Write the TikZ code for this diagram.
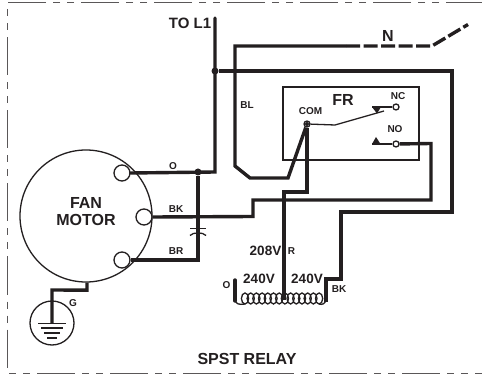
\documentclass[tikz,border=0pt]{standalone}
\usepackage{fontspec}
\setmainfont{Liberation Sans}
\tikzset{
  wire/.style={line width=3.4pt,color=ink,miter limit=4},
  thin line/.style={line width=1.3pt,color=ink},
  term/.style={circle,draw=ink,line width=1.3pt,fill=white,inner sep=0pt,minimum size=#1},
  contact/.style={circle,draw=ink,line width=1.3pt,inner sep=0pt,minimum size=6pt},
  dot/.style={circle,fill=ink,inner sep=0pt,minimum size=7pt},
  lab/.style={font=\fontsize{10}{10}\selectfont\bfseries,text=ink,inner sep=0pt},
  mid lab/.style={font=\fontsize{13.5}{13.5}\selectfont\bfseries,text=ink,inner sep=0pt},
  big lab/.style={font=\fontsize{16}{16}\selectfont\bfseries,text=ink,inner sep=0pt,align=center},
  tri/.style={fill=ink,draw=none}
}
\definecolor{ink}{HTML}{231F20}
\begin{document}
\begin{tikzpicture}[x=1pt,y=-1pt]
\useasboundingbox (0,0) rectangle (482,374);
\fill[white] (0,0) rectangle (482,374);
% frame
\draw[line width=1pt,color=ink!75,dash pattern=on 38pt off 7pt on 7pt off 7pt on 7pt off 7pt]
  (484,3) -- (7.5,3) -- (7.5,373) -- (484,373);
% motor
\node[circle,draw=ink,line width=1.3pt,minimum size=132pt,inner sep=0pt] (motor) at (86,216) {};
\node[big lab] (fan) at (86,203) {FAN};
\node[big lab] (mot) at (86,220) {MOTOR};
% relay box
\node[draw=ink,line width=1.3pt,minimum width=136pt,minimum height=73pt,inner sep=0pt] (fr) at (351,123.5) {};
% coordinates
\coordinate (l1) at (215,18);
\coordinate (j2) at (215,71);
\coordinate (cr) at (235,71);
% wires
\node[term=16pt] (to) at (122,173) {};
\node[term=16pt] (tb) at (144,217) {};
\node[term=16pt] (tr) at (122,260) {};
\node[dot] (j1) at (198,172) {};
\node[dot] (jt) at (215,71) {};
\node[contact] (com) at (307,124) {};
\node[contact] (nc) at (396,107) {};
\node[contact] (no) at (396,144) {};
\coordinate (tap) at (284,300);
\coordinate (nend) at (468,24.5);
\coordinate (nstart) at (346,46);
\coordinate (sw) at (432,46);
\draw[wire,line cap=round] (l1) -- (215,172) -- (to.east);
\draw[wire] (j1) -- (198,260) -- (tr.east);
\draw[wire] (tb.east) -- (253,216.5) -- (253,200) -- (431,200) -- (431,143.5) -- (no);
\draw[wire] (jt) -- (452,71) -- (452,212) -- (341,212) -- (341,279) -- (326,279) -- (326,302);
\draw[wire] (nstart) -- (235,46) -- (235,166) -- (250,178) -- (288,178) -- (com);
\draw[wire] (com) -- (307,192) -- (284,192) -- (tap);
\draw[wire,dash pattern=on 14pt off 3.5pt,line cap=butt] (nstart) -- (sw) -- (nend);
\draw[wire,line cap=round] (235,280) -- (235,301);
% capacitor
\coordinate (capl) at (190,228.5);
\coordinate (capr) at (206,228.5);
\draw[thin line] (capl) -- (capr);
\draw[thin line] (190,235.5) .. controls (193,232) and (203,232) .. (206,235.5);
% ground
\node[circle,draw=ink,line width=1.3pt,minimum size=44pt,inner sep=0pt] (gnd) at (52,323) {};
\draw[wire] (motor.south) ++(1,0) -- ++(0,7.5) -- (52,290) -- (gnd.center);
\draw[thin line] (38,323.5) -- (66,323.5) (41,328) -- (63,328) (44,333) -- (60,333) (47,338) -- (57,338);
% coil
\foreach \i in {0,...,13}{
  \draw[thin line] ({245+\i*5.7},298.5) ellipse (3.6pt and 5.5pt);
}
\draw[thin line] (235,300) .. controls (236,304) and (239,305) .. (245,304);
\draw[thin line] (326,300) .. controls (325,304) and (322,305) .. (319,304);
% contacts
\draw[thin line] (com) -- (335,125) -- (384,111);
\draw[thin line] (nc) -- (372,107);
\draw[line width=1.6pt,color=ink] (no) -- (372,144);
\fill[tri] (372,107) -- (381,107) -- (377,113.5) -- cycle;
\fill[tri] (372,144) -- (380.5,144) -- (376,137) -- cycle;
\fill[ink] (com) circle (2pt);
% labels
\node[mid lab,font=\fontsize{15}{15}\selectfont\bfseries] (ltol) at (190,23) {TO L1};
\node[big lab] (ln) at (388,35.5) {N};
\node[lab] (lbl) at (247,105.5) {BL};
\node[big lab] (lfr) at (343,99.5) {FR};
\node[lab] (lcom) at (310.5,111) {COM};
\node[lab] (lnc) at (398,96) {NC};
\node[lab] (lno) at (395,129) {NO};
\node[lab] (lo) at (173,166) {O};
\node[lab] (lbk) at (176,209) {BK};
\node[lab] (lbr) at (176,251) {BR};
\node[lab] (lg) at (73,303) {G};
\node[mid lab] (l208) at (265.5,250.5) {208V};
\node[lab] (lr) at (291.5,251) {R};
\node[lab] (lco) at (226.5,285) {O};
\node[mid lab] (l24a) at (259,279) {240V};
\node[mid lab] (l24b) at (307,279) {240V};
\node[lab] (lcbk) at (339,289) {BK};
\node[big lab] (lsp) at (247,359) {SPST RELAY};
\end{tikzpicture}
\end{document}
